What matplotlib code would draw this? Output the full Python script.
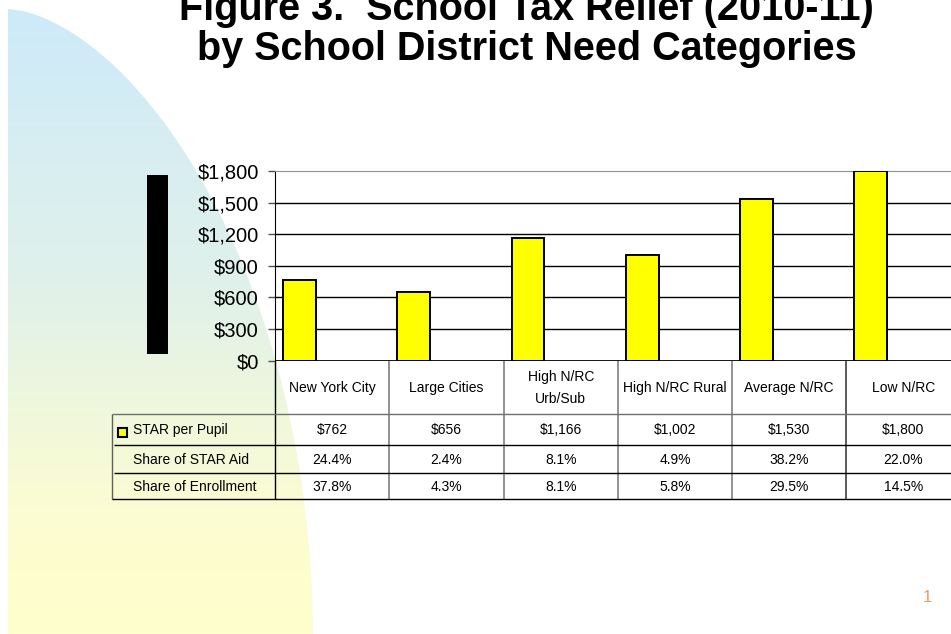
import numpy as np
import matplotlib
matplotlib.use("Agg")
import matplotlib.pyplot as plt
from matplotlib.path import Path
from matplotlib.patches import PathPatch, Rectangle
from matplotlib.colors import LinearSegmentedColormap

# ---------------- data ----------------
categories = ["New York City", "Large Cities", "High N/RC\nUrb/Sub",
              "High N/RC Rural", "Average N/RC", "Low N/RC"]
star_per_pupil = [762, 656, 1166, 1002, 1530, 1800]
share_star_aid = [24.4, 2.4, 8.1, 4.9, 38.2, 22.0]
share_enrollment = [37.8, 4.3, 8.1, 5.8, 29.5, 14.5]
row_labels = ["STAR per Pupil", "Share of STAR Aid", "Share of Enrollment"]
y_ticks = [0, 300, 600, 900, 1200, 1500, 1800]
title_lines = ["Figure 3.  School Tax Relief (2010-11)",
               "by School District Need Categories"]

W, H = 951, 634
fig = plt.figure(figsize=(W / 100, H / 100), dpi=100)
plt.rcParams['font.family'] = ['Liberation Sans', 'DejaVu Sans']

def fx(px):
    return px / W

def fy(py):
    return 1 - py / H

# ---------------- background decoration ----------------
bg = fig.add_axes([0, 0, 1, 1], zorder=-10)
bg.set_xlim(0, W)
bg.set_ylim(H, 0)
bg.axis("off")
cy, b, a = 640.0, 631.0, 305.0
ys = np.linspace(cy - b, cy, 300)
rr = np.clip((cy - ys) / b, 0, 1)
xs = 8 + a * (1 - rr ** 2) ** 0.6
verts = [(8, cy)] + list(zip(xs, ys)) + [(8, cy)]
clip = PathPatch(Path(verts), facecolor="none", edgecolor="none")
bg.add_patch(clip)
cmap = LinearSegmentedColormap.from_list(
    "bgc", [(0, "#CDEAFA"), (0.45, "#E0F1EA"), (0.8, "#FBFCD2"), (1, "#FFFFCC")])
grad = np.linspace(0, 1, 256).reshape(-1, 1)
im = bg.imshow(grad, cmap=cmap, extent=[0, W, H, 0], aspect="auto")
im.set_clip_path(clip)

# ---------------- black bar decoration ----------------
fig.add_artist(Rectangle((fx(147), fy(354)), fx(21), (354 - 175) / H,
                         transform=fig.transFigure, facecolor="black",
                         edgecolor="none"))

# ---------------- title ----------------
tfam = ['Liberation Sans Narrow', 'Liberation Sans', 'DejaVu Sans']
t1 = fig.text(fx(526), fy(20), title_lines[0], ha="center", va="baseline",
              fontsize=34, fontweight="bold", family=tfam)
t2 = fig.text(fx(527), fy(60), title_lines[1], ha="center", va="baseline",
              fontsize=34, fontweight="bold", family=tfam)
fig.canvas.draw()
r = fig.canvas.get_renderer()
w2 = t2.get_window_extent(r).width
scale = 660.0 / w2
if scale < 1:
    t1.set_fontsize(34 * scale)
    t2.set_fontsize(34 * scale)

# ---------------- chart ----------------
left, right, top, bottom = 275.3, 960.5, 171.0, 360.7
ax = fig.add_axes([fx(left), fy(bottom), fx(right - left), (bottom - top) / H])
ax.set_facecolor("white")
x = np.arange(len(categories))
ax.bar(x - 0.5 + 0.07, star_per_pupil, width=0.286, align="edge",
       color="#FFFF00", edgecolor="black", linewidth=1.4, zorder=3)
ax.set_xlim(-0.5, 5.5)
ax.set_ylim(0, 1800)
ax.set_yticks(y_ticks)
ax.set_yticklabels(["${:,}".format(v) for v in y_ticks], fontsize=14.5)
ax.set_xticks([])
for v in y_ticks[1:-1]:
    ax.axhline(v, color="black", linewidth=1, zorder=1)
ax.axhline(0, color="black", linewidth=2, zorder=4)
for s in ["right", "bottom"]:
    ax.spines[s].set_visible(False)
ax.spines["top"].set_color("#909090")
ax.spines["left"].set_color("black")
ax.tick_params(axis="y", direction="out", length=5, width=1, color="#505050",
               pad=7)

# ---------------- data table ----------------
tb_top, tb_hdr, tb_r1, tb_r2, tb_bot = 360.7, 414.0, 444.7, 473.3, 499.3
lab_left = 112.0
tax = fig.add_axes([fx(left), fy(tb_bot), fx(right - left), (tb_bot - tb_top) / H])
tax.set_xlim(-0.5, 5.5)
tax.set_ylim(tb_bot, tb_top)
tax.axis("off")
colw = (right - left) / 6.0
xl = (lab_left - left) / colw - 0.5

lc = dict(clip_on=False, solid_capstyle="butt")
# vertical lines
tax.plot([-0.5, -0.5], [tb_top, tb_bot], color="black", lw=1, **lc)
for c in range(1, 6):
    col = "#808080" if c < 5 else "#404040"
    tax.plot([c - 0.5, c - 0.5], [tb_top, tb_bot], color=col, lw=1.2, **lc)
tax.plot([xl, xl], [tb_hdr, tb_bot], color="#606060", lw=1, **lc)
# horizontal lines
tax.plot([xl, 5.5], [tb_hdr, tb_hdr], color="#707070", lw=1, **lc)
xl2 = (lab_left + 2 - left) / colw - 0.5
tax.plot([xl2, 5.5], [tb_r1, tb_r1], color="black", lw=1, **lc)
tax.plot([xl2, 5.5], [tb_r2, tb_r2], color="black", lw=1, **lc)
tax.plot([xl, 5.5], [tb_bot, tb_bot], color="black", lw=1, **lc)

fs = 10
for i, c in enumerate(categories):
    tax.text(i, (tb_top + tb_hdr) / 2 + 0.5, c, ha="center", va="center",
             fontsize=fs, linespacing=1.75, clip_on=False)
rows_y = [(tb_hdr + tb_r1) / 2 + 1, (tb_r1 + tb_r2) / 2 + 1, (tb_r2 + tb_bot) / 2 + 1]
row_vals = [["${:,}".format(v) for v in star_per_pupil],
            ["{:.1f}%".format(v) for v in share_star_aid],
            ["{:.1f}%".format(v) for v in share_enrollment]]
xlab = (133 - left) / colw - 0.5
for ry, lab, vals in zip(rows_y, row_labels, row_vals):
    tax.text(xlab, ry, lab, ha="left", va="center", fontsize=fs, clip_on=False)
    for i, v in enumerate(vals):
        tax.text(i, ry, v, ha="center", va="center", fontsize=fs, clip_on=False)
# legend key
kx = (118 - left) / colw - 0.5
tax.add_patch(Rectangle((kx, 428), 9 / colw, 9, facecolor="#FFFF00",
                        edgecolor="black", linewidth=1.5, clip_on=False))

# ---------------- page number ----------------
fig.text(fx(927), fy(598), "1", color="#F09A68", fontsize=12,
         ha="center", va="center")

fig.savefig("out.png", dpi=100)
